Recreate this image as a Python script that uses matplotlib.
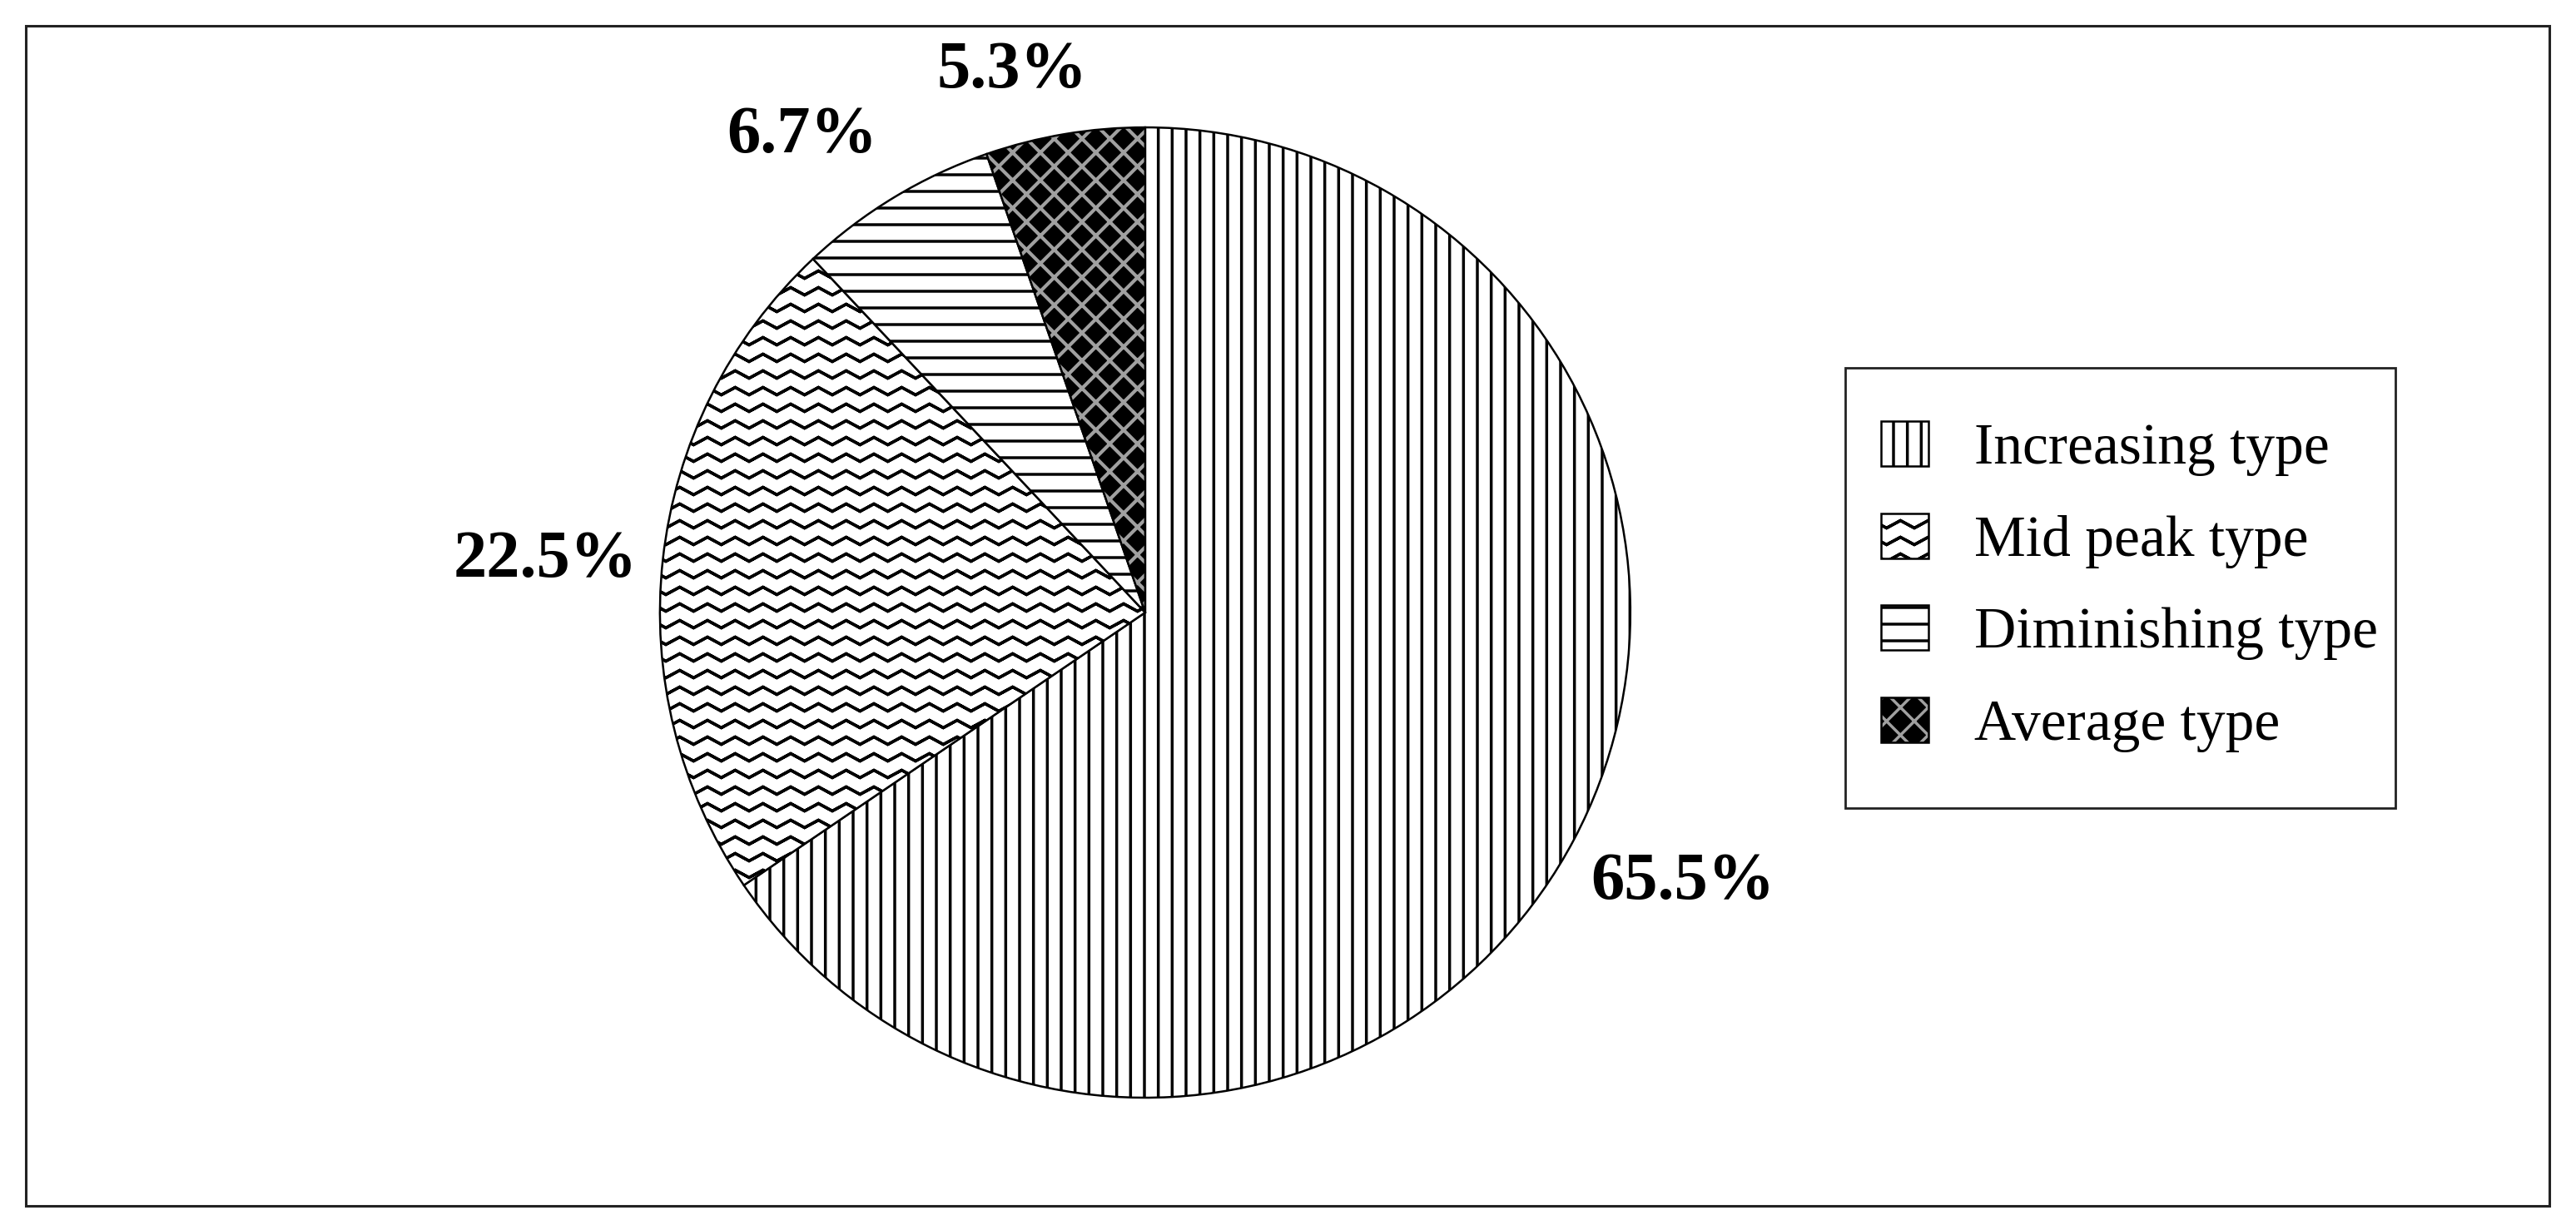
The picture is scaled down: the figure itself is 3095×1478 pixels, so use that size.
import warnings
import numpy as np
import matplotlib
matplotlib.use('Agg')
import matplotlib.pyplot as plt
import matplotlib.colors as mcolors
from matplotlib import hatch as mhatch
from matplotlib.path import Path
from matplotlib.patches import Rectangle

warnings.filterwarnings('ignore')

# data
categories = ['Increasing type', 'Mid peak type', 'Diminishing type', 'Average type']
shares = [65.5, 22.5, 6.7, 5.3]

# styles
hatches = ['|', 'z', 'h', 'x']
faces = ['white', 'white', 'white', 'black']
hatch_cols = ['black', 'black', 'black', '#a0a0a0']
label_dist = [1.24, 1.24, 1.21, 1.15]
label_turn = [1.2, 1.3, 4.6, 4.3]   # degrees, anticlockwise nudge


# extra hatch patterns: zigzag ('z') and sparser horizontal lines ('h')
class ZigZagHatch(mhatch.HatchPatternBase):
    def __init__(self, hatch, density):
        self.rows = hatch.count('z') * 5
        self.teeth = 3
        self.n = 2 * self.teeth + 1
        # forward and back along the same line so the fill has no area
        self.num_vertices = self.rows * (2 * self.n - 1)

    def set_vertices_and_codes(self, vertices, codes):
        n = self.n
        m = 2 * n - 1
        xs = np.linspace(0, 1, n)
        ys = np.where(np.arange(n) % 2 == 0, -0.045, 0.045)
        xs = np.concatenate([xs, xs[-2::-1]])
        ys = np.concatenate([ys, ys[-2::-1]])
        for r in range(self.rows):
            y0 = (r + 0.5) / self.rows
            vertices[r * m:(r + 1) * m, 0] = xs
            vertices[r * m:(r + 1) * m, 1] = y0 + ys
            codes[r * m] = Path.MOVETO
            codes[r * m + 1:(r + 1) * m] = Path.LINETO


class SparseHorizontalHatch(mhatch.HatchPatternBase):
    def __init__(self, hatch, density):
        self.num_lines = hatch.count('h') * 5
        self.num_vertices = self.num_lines * 2

    def set_vertices_and_codes(self, vertices, codes):
        ys = (np.arange(self.num_lines) + 0.5) / self.num_lines
        vertices[0::2, 0] = 0.0
        vertices[1::2, 0] = 1.0
        vertices[0::2, 1] = ys
        vertices[1::2, 1] = ys
        codes[0::2] = Path.MOVETO
        codes[1::2] = Path.LINETO


mhatch._hatch_types.extend([ZigZagHatch, SparseHorizontalHatch])

plt.rcParams['hatch.linewidth'] = 2.5

fig = plt.figure(figsize=(30.95, 14.78), dpi=100)
ax = fig.add_axes([0.2091, 0.00896, 0.4709, 0.9861])

wedges, _ = ax.pie(shares, startangle=90, counterclock=False, colors=faces,
                   hatch=hatches,
                   wedgeprops=dict(edgecolor='black', linewidth=1.8))
for w, hc in zip(wedges, hatch_cols):
    w._hatch_color = mcolors.to_rgba(hc)
if hasattr(wedges[3], 'set_hatch_linewidth'):
    wedges[3].set_hatch_linewidth(3.0)

for w, v, d, t in zip(wedges, shares, label_dist, label_turn):
    th = np.deg2rad((w.theta1 + w.theta2) / 2 + t)
    ax.text(d * np.cos(th), d * np.sin(th), f'{v}%', ha='center', va='center',
            fontsize=58, fontweight='bold', family='Liberation Serif')

ax.set_xlim(-1.25, 1.25)
ax.set_ylim(-1.25, 1.25)
ax.set_aspect('equal')

leg = fig.legend(wedges, categories, loc='upper left',
                 bbox_to_anchor=(0.7302, 0.6575), frameon=False,
                 borderpad=0, borderaxespad=0,
                 prop=dict(family='Liberation Serif', size=50),
                 handlelength=0.82, handleheight=0.82, handletextpad=0.8,
                 labelspacing=0.64)

# outer frame and legend frame
fig.add_artist(Rectangle((0.01002, 0.01962), 0.97964, 0.95941,
                         transform=fig.transFigure, fill=False,
                         edgecolor='#222222', linewidth=2.2))
fig.add_artist(Rectangle((0.7163, 0.3430), 0.2136, 0.3580,
                         transform=fig.transFigure, fill=False,
                         edgecolor='#222222', linewidth=2.0))

fig.savefig('out.png', dpi=100)
